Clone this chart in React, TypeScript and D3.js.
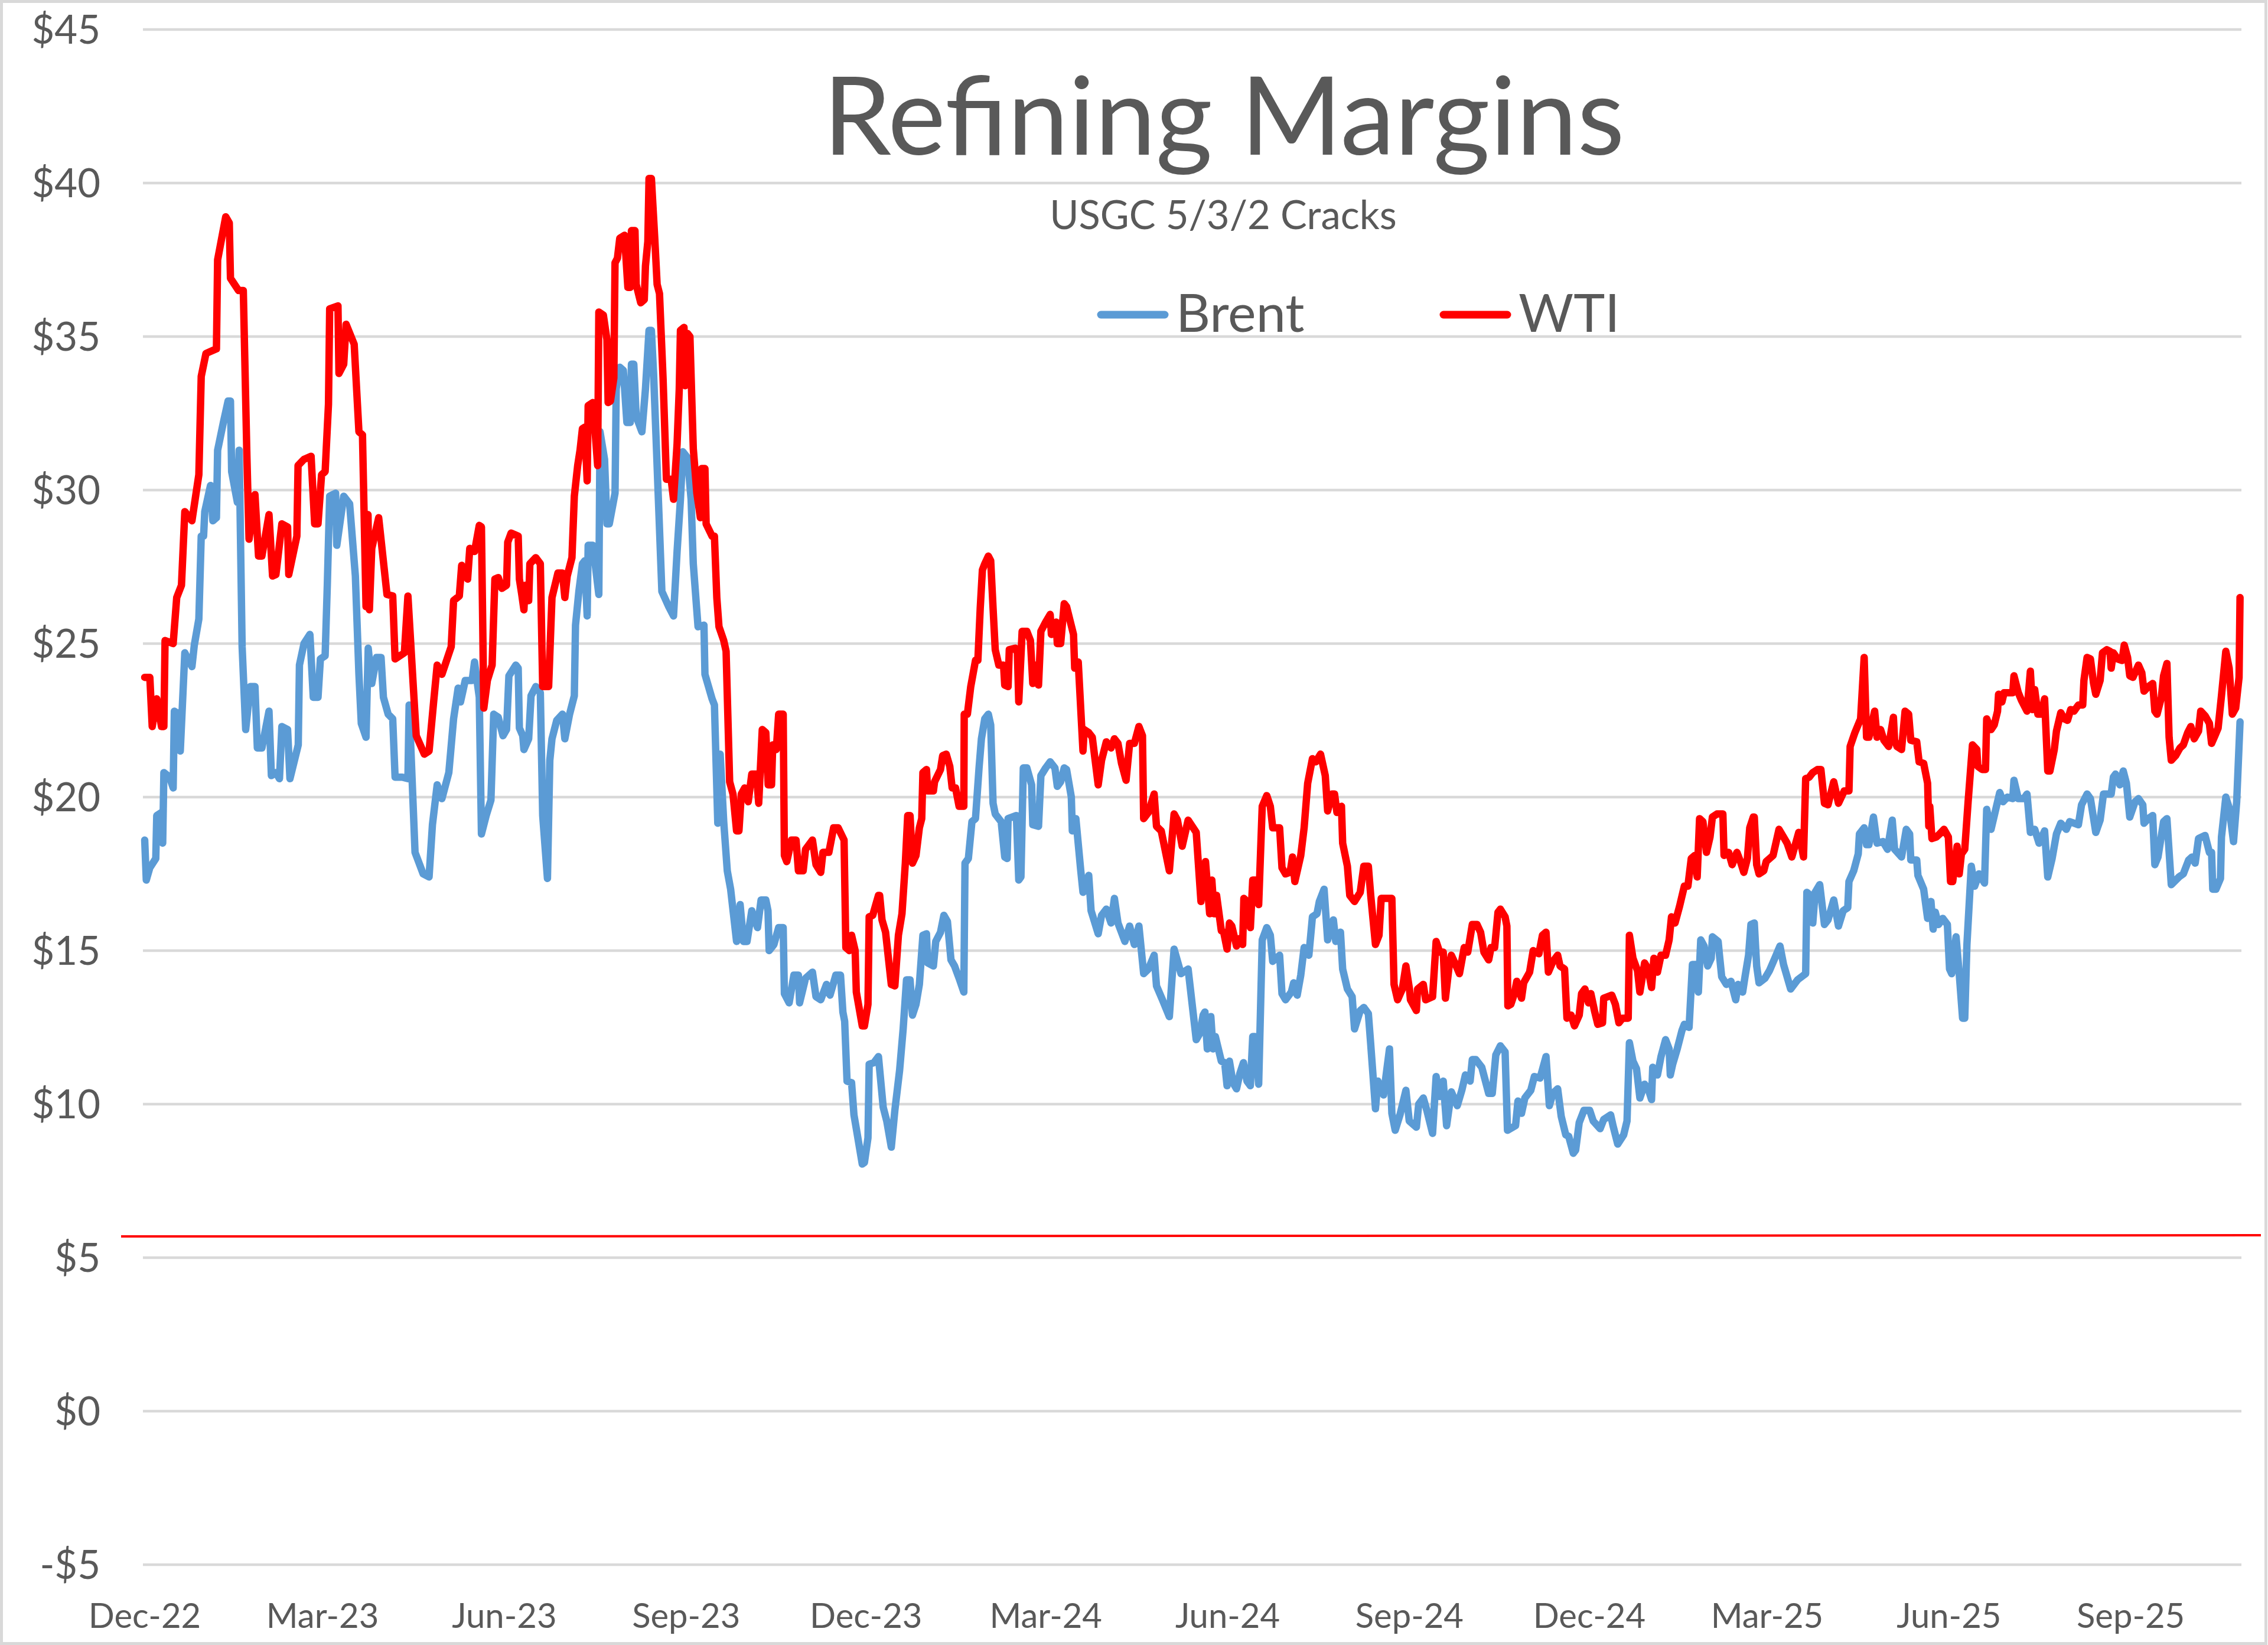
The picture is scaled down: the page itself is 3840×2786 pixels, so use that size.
import React from 'react';
import * as d3 from 'd3';

// ---------- data ----------
// x = days since 2022-12-01, y = USGC 5/3/2 crack ($/bbl)
const wtiSeries: [number, number][] = [
  [0,23.9],[2.6,23.9],[3.8,22.3],[6.1,23.2],[8.5,22.3],[9.7,22.3],[10.3,25.1],[14.4,25.0],[16.2,26.5],[18.6,26.9],[20.3,29.3],[23.9,29.0],[27.4,30.5],[28.6,33.7],[31.0,34.45],[36.3,34.6],[36.9,37.5],[41.0,38.9],[42.8,38.7],[43.4,36.9],[47.5,36.5],[49.9,36.5],[51.7,31.15],[52.8,28.4],[55.8,29.85],[57.6,27.85],[59.3,27.85],[62.9,29.2],[64.7,27.2],[66.4,27.25],[69.4,28.9],[72.3,28.8],[72.9,27.25],[77.0,28.5],[77.6,30.8],[80.6,31.0],[84.2,31.1],[86.0,28.9],[87.7,28.9],[89.5,30.5],[91.3,30.6],[93.0,32.8],[93.6,35.9],[97.8,36.0],[98.3,33.8],[100.7,34.1],[101.9,35.4],[106.0,34.75],[108.4,31.9],[110.2,31.8],[112.0,26.2],[113.0,29.2],[113.7,26.1],[114.9,28.1],[118.4,29.1],[122.6,26.6],[125.5,26.55],[126.7,24.5],[131.4,24.7],[133.2,26.55],[137.4,22.0],[141.5,21.4],[143.9,21.5],[146.2,23.1],[148.0,24.3],[150.4,24.0],[155.1,24.9],[156.3,26.4],[159.2,26.55],[160.4,27.55],[163.4,27.1],[164.5,28.1],[166.9,28.0],[169.3,28.85],[170.4,28.8],[171.6,22.9],[173.4,23.8],[175.8,24.3],
  [177.2,27.1],[178.9,27.15],[180.7,26.8],[183.1,26.9],[183.7,28.3],[185.4,28.6],[189.0,28.5],[189.6,27.1],[190.8,26.6],[191.9,26.1],[192.5,26.9],[194.3,26.4],[194.9,27.6],[197.9,27.8],[200.2,27.6],[201.4,23.6],[204.4,23.6],[205.5,25.5],[206.1,26.5],[209.1,27.3],[211.4,27.3],[212.6,26.5],[213.8,27.2],[216.2,27.8],[217.4,29.8],[219.1,30.8],[220.3,31.3],[221.5,32.0],[222.7,32.05],[223.9,30.3],[224.4,32.75],[226.8,32.85],[229.2,30.8],[229.8,35.8],[232.1,35.7],[233.9,34.9],[234.5,32.85],[235.7,32.9],[237.4,33.65],[238.0,37.4],[239.2,37.55],[240.4,38.2],[242.8,38.3],[244.5,36.6],[245.7,36.6],[246.3,38.45],[248.1,38.45],[248.7,36.7],[251.0,36.1],[252.8,36.2],[253.4,37.3],[254.6,38.1],[255.2,40.15],[256.4,40.15],[258.1,38.2],[259.3,36.7],[260.5,36.4],[262.3,33.65],[264.0,30.35],[266.4,30.35],[267.6,29.7],[269.4,31.5],[270.5,33.3],[271.1,35.2],[272.9,35.3],[273.5,33.4],[274.7,35.1],[275.9,35.0],[277.6,31.35],[279.4,29.9],[281.2,29.1],[281.8,30.7],[283.5,30.7],[284.1,28.9],[287.1,28.5],[288.3,28.5],[289.5,26.5],[290.6,25.55],[293.0,25.1],[294.2,24.75],[296.0,20.5],[297.7,20.1],[299.5,18.9],[300.7,18.9],[301.9,20.1],[303.6,20.3],[305.4,19.85],[307.2,20.75],[309.6,20.75],[310.7,19.8],[312.5,22.2],[314.3,22.1],[315.5,20.4],[317.2,20.4],[317.8,21.7],[319.6,21.55],[320.8,22.7],[323.1,22.7],[323.7,18.1],[324.9,17.9],[327.3,18.6],[329.6,18.6],[330.8,17.6],[333.2,17.6],[334.4,18.3],[337.9,18.6],[339.7,17.8],[342.1,17.55],[343.2,18.2],[346.2,18.2],[348.6,19.0],[350.9,19.0],[353.9,18.6],
  [354.8,15.1],[356.6,15.0],[357.7,15.5],[359.5,15.0],[360.1,13.65],[363.1,12.55],[364.2,12.55],[366.0,13.25],[366.6,16.1],[368.4,16.15],[371.3,16.8],[371.9,16.8],[373.1,16.0],[374.9,15.6],[377.8,13.9],[379.6,13.85],[381.4,15.5],[383.2,16.2],[384.9,17.85],[386.1,19.4],[387.3,19.4],[388.5,17.85],[390.3,18.1],[392.0,19.0],[393.2,19.3],[393.8,20.8],[395.6,20.9],[396.2,20.2],[399.1,20.2],[399.7,20.5],[402.7,20.9],[403.8,21.35],[405.6,21.4],[407.4,21.0],[408.6,20.3],[410.3,20.3],[412.1,19.7],[414.5,19.7],[414.7,22.7],[416.3,22.7],[418.0,23.6],[420.4,24.45],[421.6,24.45],[422.8,26.15],[423.9,27.4],[425.1,27.6],[426.9,27.85],[428.1,27.7],[429.3,26.15],[430.4,24.8],[432.2,24.3],[434.6,24.3],[435.2,23.65],[436.9,23.6],[437.5,24.8],[440.5,24.85],[441.6,24.7],[442.3,23.1],[444.0,25.4],[446.4,25.4],[448.2,25.1],[449.4,23.7],[450.5,24.3],[452.3,23.65],[453.5,25.4],[455.9,25.7],[458.2,25.95],[458.8,25.3],[461.2,25.7],[461.8,25.0],[463.5,25.0],[465.3,26.3],[466.5,26.2],[470.0,25.3],[470.6,24.2],[472.4,24.4],[474.8,21.5],[475.4,22.2],[477.7,22.1],[479.5,21.95],[482.5,20.4],[484.2,21.2],[486.6,21.8],[489.0,21.6],[490.7,21.9],[492.5,21.75],[494.3,21.1],[496.6,20.55],[498.4,21.75],[500.8,21.75],[503.1,22.3],[504.9,22.0],[505.5,19.3],[507.9,19.5],[510.8,20.1],[512.0,19.05],[514.4,18.9],[518.5,17.6],[520.9,19.45],[522.6,19.25],[525.0,18.4],[528.0,19.25],[532.1,18.85],[534.5,16.6],[536.8,17.9],
  [538.9,16.2],[540.0,17.3],[541.2,16.2],[542.4,16.8],[544.8,15.65],[546.0,15.6],[547.7,15.05],[548.9,15.9],[550.1,15.8],[552.5,15.15],[554.2,15.4],[555.6,15.2],[556.2,16.7],[557.8,16.6],[559.5,15.75],[560.7,17.3],[561.9,17.3],[563.7,16.5],[565.5,19.7],[567.8,20.05],[569.6,19.7],[570.8,19.0],[574.3,19.0],[575.5,17.7],[577.3,17.5],[579.6,17.55],[580.8,18.05],[582.0,17.25],[585.0,18.1],[586.7,19.0],[588.5,20.45],[590.9,21.25],[592.6,21.15],[595.0,21.4],[597.4,20.7],[598.6,19.55],[600.9,20.1],[602.1,20.1],[603.3,19.5],[605.6,19.7],[606.2,18.5],[608.6,17.75],[609.8,16.8],[612.2,16.6],[615.1,16.9],[616.9,17.75],[619.2,17.75],[620.4,16.8],[622.8,15.2],[624.6,15.5],[625.7,16.7],[631.1,16.7],[632.2,13.9],[634.0,13.4],[636.4,13.75],[638.2,14.5],[640.0,13.75],[640.5,13.4],[643.5,13.05],[644.1,13.75],[647.0,13.9],[648.2,13.4],[651.7,13.5],[653.5,15.3],[655.3,14.95],[657.1,14.95],[658.2,13.45],[660.0,14.45],[661.2,14.85],[663.0,14.6],[665.3,14.25],[667.7,15.1],[669.5,14.95],[671.8,15.85],[674.2,15.85],[676.0,15.6],[677.7,14.95],[680.1,14.7],[681.3,15.1],[683.1,15.1],[684.8,16.25],[686.0,16.35],[688.4,16.1],[689.3,15.8],[689.8,13.2],[691.3,13.25],[693.1,13.6],[694.3,14.0],[696.7,13.45],[697.8,13.95],[700.8,14.3],[702.6,15.0],[705.5,14.9],[707.3,15.5],[709.1,15.6],[710.3,14.3],[712.6,14.65],[715.0,14.85],[716.2,14.5],[718.5,14.4],[719.7,12.8],
  [721.8,12.9],[723.5,12.55],[725.9,12.9],[727.1,13.6],[728.8,13.75],[730.6,13.3],[731.8,13.6],[733.6,13.05],[735.3,12.6],[737.7,12.65],[738.3,13.45],[742.4,13.55],[744.2,13.25],[746.0,12.65],[747.8,12.8],[750.7,12.8],[751.3,15.5],[753.1,14.75],[755.4,14.35],[756.6,13.65],[759.0,14.6],[760.8,14.4],[762.5,13.8],[763.7,14.75],[765.5,14.3],[767.3,14.85],[769.6,14.85],[771.4,15.35],[772.6,16.1],[774.4,15.9],[776.7,16.45],[779.1,17.1],[780.9,17.1],[782.6,18.0],[784.4,18.1],[785.6,17.4],[786.8,19.3],[788.5,19.2],[790.3,18.2],[792.1,18.7],[793.3,19.35],[795.6,19.45],[798.6,19.45],[799.2,18.1],[801.5,18.2],[803.3,17.8],[805.7,18.2],[807.5,17.9],[809.2,17.55],[811.0,18.0],[812.2,19.0],[814.0,19.35],[814.5,19.35],[815.7,17.8],[816.9,17.5],[819.3,17.6],[820.5,17.9],[824.0,18.1],[827.0,18.95],[829.3,18.7],[831.1,18.5],[833.5,18.05],[837.0,18.85],[839.4,18.05],[840.5,20.6],[842.3,20.65],[844.1,20.8],[846.5,20.9],[848.2,20.9],[850.0,19.8],[851.8,19.75],[854.7,20.5],[857.1,19.8],[860.0,20.2],[862.4,20.2],[863.0,21.65],[865.4,22.1],[868.3,22.55],[870.1,24.55],[871.3,21.95],[872.5,21.95],[875.4,22.8],[876.6,21.95],[878.4,22.2],[880.1,21.85],[882.5,21.65],[884.9,22.6],[885.5,21.85],[886.7,21.65],[889.0,21.55],[890.8,22.8],[892.6,22.7],[893.7,21.85],[896.7,21.8],[897.9,21.15],[900.2,21.1],
  [902.2,20.45],[902.8,19.05],[903.3,19.7],[904.4,18.65],[906.6,18.7],[908.3,18.8],[910.5,18.95],[912.7,18.7],[913.8,17.25],[914.9,17.25],[917.1,18.4],[918.2,17.5],[919.3,18.15],[921.0,18.3],[922.7,19.85],[924.9,21.7],[927.1,21.55],[927.6,21.0],[929.8,20.9],[931.5,20.9],[932.1,22.55],[934.3,22.2],[935.9,22.35],[937.6,22.8],[938.1,23.35],[939.8,23.1],[940.9,23.4],[945.3,23.4],[945.9,23.95],[948.1,23.4],[949.7,23.15],[952.5,22.8],[954.2,24.1],[955.3,22.85],[956.4,23.5],[958.0,22.7],[959.7,22.7],[961.4,23.2],[963.0,20.85],[964.1,20.85],[966.3,21.55],[967.4,22.15],[969.6,22.75],[971.3,22.55],[973.0,22.5],[974.6,22.85],[976.3,22.8],[978.5,23.0],[980.7,23.0],[981.3,23.8],[982.9,24.55],[984.6,24.5],[986.2,23.7],[987.3,23.35],[989.5,23.8],[990.7,24.7],[992.9,24.8],[994.5,24.75],[995.1,24.2],[996.2,24.7],[998.4,24.5],[1000.6,24.45],[1001.7,24.95],[1003.4,24.55],[1004.5,23.95],[1006.1,23.9],[1008.9,24.3],[1010.6,24.05],[1011.7,23.45],[1013.9,23.6],[1016.1,23.7],[1017.2,22.8],[1018.3,22.7],[1020.5,23.25],[1021.6,23.95],[1023.3,24.35],[1024.4,21.95],[1025.5,21.2],[1027.7,21.35],[1029.9,21.6],[1031.6,21.7],[1033.8,22.1],[1035.4,22.3],[1037.1,21.9],[1039.3,22.15],[1040.4,22.8],[1042.6,22.65],[1044.8,22.4],[1045.9,21.75],[1047.6,22.0],[1049.2,22.25],[1050.9,23.3],[1053.1,24.75],[1054.8,24.2],[1056.4,22.7],[1058.1,22.9],[1059.8,23.9],[1060.3,26.5],
];

const brentSeries: [number, number][] = [
  [0,18.6],[0.8,17.3],[2.6,17.7],[5.6,18.0],[6.1,19.4],[8.5,19.5],[9.1,18.5],[9.7,20.8],[12.6,20.65],[14.4,20.3],[15.0,22.8],[17.4,22.7],[18.0,21.5],[20.3,24.7],[23.9,24.25],[25.1,24.95],[27.4,25.8],[28.6,28.5],[29.8,28.5],[30.4,29.3],[33.3,30.15],[34.5,29.0],[36.3,29.1],[36.9,31.3],[39.8,32.2],[42.2,32.9],[43.4,32.9],[44.0,30.6],[46.9,29.6],[47.8,31.3],[49.3,24.9],[51.1,22.2],[53.4,23.6],[55.8,23.6],[57.0,21.6],[59.3,21.6],[62.9,22.8],[64.1,20.7],[66.4,20.8],[68.2,20.6],[69.4,22.3],[72.3,22.2],[73.5,20.6],[77.7,21.7],[78.3,24.3],[80.6,25.0],[83.6,25.3],[85.3,23.25],[87.7,23.25],[88.9,24.5],[91.3,24.6],[92.4,26.9],[93.6,29.8],[96.6,29.9],[97.2,28.2],[100.7,29.8],[103.7,29.55],[106.6,27.2],[108.4,24.0],[109.6,22.4],[112.0,21.95],[113.1,24.85],[114.9,23.7],[117.3,24.55],[119.6,24.55],[120.8,23.25],[123.2,22.7],[125.5,22.55],[126.7,20.65],[130.3,20.65],[133.2,20.6],[133.8,23.0],[136.8,18.2],[140.9,17.5],[143.9,17.4],[145.6,19.1],[148.0,20.4],[150.4,19.95],[153.9,20.8],[156.3,22.55],[158.6,23.55],[159.8,23.1],[162.2,23.8],[165.7,23.8],[166.9,24.4],[169.3,23.25],[170.4,18.8],[172.8,19.4],[175.2,19.9],
  [176.6,22.7],[178.9,22.6],[181.3,22.0],[183.1,22.2],[184.3,23.95],[187.8,24.3],[189.0,24.2],[189.6,22.25],[191.3,22.0],[191.9,21.55],[194.3,21.9],[195.5,23.3],[197.9,23.6],[200.2,23.4],[201.4,19.4],[203.8,17.35],[205.0,21.2],[206.1,21.9],[208.5,22.5],[211.4,22.7],[212.6,21.9],[215.0,22.7],[217.4,23.3],[218.0,25.6],[219.7,26.7],[221.5,27.6],[222.7,27.7],[223.9,25.9],[224.4,28.2],[226.8,28.2],[229.8,26.6],[230.4,31.9],[232.7,31.0],[233.9,28.9],[235.1,28.9],[238.0,29.9],[238.6,33.3],[240.4,34.0],[242.2,33.9],[244.0,32.2],[245.7,32.2],[246.3,34.1],[247.5,34.1],[248.7,32.4],[251.6,31.9],[253.4,33.3],[255.2,35.2],[256.4,35.2],[257.5,33.8],[258.7,31.8],[261.7,26.7],[265.2,26.2],[267.6,25.9],[269.4,28.0],[271.1,29.7],[272.3,31.25],[274.7,31.05],[276.5,29.7],[277.6,27.6],[280.0,25.55],[283.0,25.6],[283.5,24.0],[287.1,23.2],[288.3,23.0],[290.0,19.15],[291.2,21.4],[293.0,19.2],[294.8,17.6],[296.5,17.0],[299.5,15.3],[301.3,16.5],[303.0,15.3],[304.8,15.3],[307.2,16.3],[310.1,15.75],[311.9,16.65],[314.3,16.65],[315.4,16.3],[316.0,15.0],[318.4,15.2],[320.8,15.75],[323.1,15.75],[323.7,13.6],[326.1,13.3],[328.5,14.2],[330.8,14.2],[331.4,13.3],[334.4,14.1],[337.9,14.3],[339.7,13.5],[342.1,13.4],[345.0,13.9],[346.8,13.55],[349.7,14.2],[352.1,14.2],[353.3,13.0],
  [354.2,12.7],[355.4,10.75],[357.7,10.7],[358.9,9.65],[360.1,9.2],[363.1,8.05],[364.2,8.1],[366.0,8.9],[366.6,11.3],[369.0,11.35],[371.3,11.55],[373.7,9.9],[375.5,9.45],[377.8,8.6],[379.6,9.8],[382.0,11.1],[383.8,12.45],[385.5,14.05],[387.3,14.05],[388.5,12.9],[390.3,13.25],[392.0,13.9],[393.8,15.5],[395.6,15.55],[396.2,14.6],[399.1,14.5],[400.3,15.3],[402.7,15.6],[404.4,16.15],[406.2,15.95],[408.0,14.7],[409.8,14.5],[412.1,14.1],[414.5,13.65],[415.1,17.85],[416.8,18.0],[418.6,19.2],[420.4,19.3],[422.2,20.95],[423.4,21.9],[425.1,22.55],[426.9,22.7],[428.1,22.35],[429.3,19.8],[430.4,19.45],[433.4,19.2],[435.2,18.05],[436.4,18.0],[436.9,19.3],[441.1,19.4],[442.3,17.3],[443.4,17.4],[444.6,20.95],[446.4,20.95],[448.8,20.4],[449.4,19.1],[452.3,19.05],[453.5,20.7],[455.9,20.95],[458.2,21.15],[460.6,20.95],[461.8,20.35],[463.5,20.5],[465.3,20.95],[466.5,20.9],[468.9,20.0],[469.4,18.9],[471.2,19.3],[473.6,17.65],[474.8,16.9],[477.7,17.45],[478.9,16.3],[482.5,15.55],[484.2,16.15],[486.6,16.35],[489.0,15.9],[490.7,16.7],[492.5,15.9],[496.0,15.3],[498.4,15.8],[500.8,15.2],[503.1,15.8],[505.5,14.25],[507.9,14.4],[510.8,14.85],[512.0,13.85],[515.0,13.4],[518.5,12.85],[520.9,15.05],[524.4,14.25],[528.0,14.4],[532.1,12.1],[533.9,12.3],[535.6,12.9],
  [536.5,13.0],[537.7,11.8],[539.5,12.85],[540.6,11.8],[541.8,12.2],[544.8,11.4],[546.5,11.35],[547.7,10.6],[548.9,11.4],[550.7,10.7],[552.5,10.5],[554.2,11.0],[556.0,11.35],[557.8,10.75],[559.5,10.6],[560.7,12.2],[561.9,12.2],[563.7,10.65],[565.5,15.35],[567.8,15.75],[569.6,15.5],[570.8,14.65],[574.3,14.85],[575.5,13.6],[577.3,13.4],[580.2,13.65],[581.4,13.95],[583.2,13.55],[585.0,14.2],[586.7,15.1],[589.1,14.85],[590.9,16.1],[593.2,16.2],[594.4,16.6],[596.8,17.0],[598.6,15.35],[601.5,16.0],[602.7,15.3],[605.1,15.6],[606.2,14.4],[608.6,13.75],[611.0,13.5],[612.2,12.45],[615.1,13.05],[616.9,13.15],[619.2,12.95],[620.4,11.95],[622.8,9.85],[624.0,10.75],[626.9,10.3],[629.9,11.8],[631.1,9.7],[632.8,9.15],[635.2,9.65],[638.2,10.45],[639.9,9.45],[643.5,9.25],[644.7,10.0],[647.0,10.2],[648.8,9.8],[651.7,9.05],[653.5,10.9],[655.3,10.25],[657.1,10.75],[658.8,9.3],[661.2,10.4],[664.2,9.95],[666.5,10.45],[668.3,10.95],[670.7,10.75],[671.8,11.45],[673.6,11.45],[676.6,11.2],[680.1,10.35],[681.9,10.35],[683.7,11.6],[686.0,11.9],[688.4,11.7],[689.6,9.15],[693.7,9.3],[694.9,10.1],[696.7,9.7],[698.4,10.2],[701.4,10.45],[703.2,10.9],[706.1,10.85],[709.1,11.55],[710.8,9.95],[712.6,10.35],[715.0,10.5],[716.8,9.6],[719.1,9.0],
  [720.6,8.95],[722.9,8.4],[724.1,8.5],[725.9,9.4],[728.3,9.8],[731.2,9.8],[733.0,9.45],[736.5,9.2],[738.3,9.5],[741.8,9.65],[743.0,9.3],[745.4,8.7],[748.4,9.0],[750.1,9.45],[751.3,12.0],[753.1,11.4],[754.9,11.15],[756.6,10.2],[759.0,10.65],[760.8,10.5],[762.5,10.15],[763.1,11.2],[765.5,10.95],[767.3,11.55],[769.6,12.1],[771.4,11.8],[772.0,10.95],[773.2,11.3],[775.5,11.8],[777.9,12.4],[779.1,12.6],[781.5,12.5],[783.2,14.55],[785.0,14.55],[786.2,13.65],[787.4,15.35],[789.1,15.15],[790.9,14.5],[792.7,14.75],[793.3,15.45],[796.2,15.3],[796.8,14.9],[798.0,14.15],[800.4,13.9],[802.7,14.0],[805.1,13.4],[806.3,13.9],[808.6,13.65],[809.8,14.15],[811.6,14.85],[812.8,15.85],[814.5,15.9],[815.7,14.5],[816.9,13.95],[819.9,14.1],[822.2,14.35],[825.2,14.8],[827.5,15.15],[829.3,14.55],[832.9,13.75],[836.4,14.05],[840.5,14.25],[841.1,16.9],[842.9,16.8],[844.1,15.9],[845.3,16.9],[847.6,17.15],[850.0,15.85],[851.8,16.0],[854.7,16.65],[857.1,15.8],[859.5,16.3],[861.8,16.4],[862.4,17.25],[864.8,17.6],[867.1,18.15],[867.7,18.8],[870.1,19.0],[871.3,18.45],[872.5,18.45],[874.8,19.35],[876.6,18.5],[879.6,18.55],[881.9,18.3],[884.3,19.25],[885.5,18.3],[889.0,18.05],[891.4,18.95],[893.1,18.8],[893.7,17.95],[896.7,17.95],[897.3,17.45],[900.2,17.0],
  [902.2,16.05],[903.9,16.6],[905.0,15.7],[906.1,16.25],[907.7,15.85],[909.9,16.05],[912.2,15.85],[913.3,14.4],[914.4,14.25],[916.6,15.45],[918.2,14.25],[919.9,12.8],[921.0,12.8],[922.1,15.2],[924.3,17.75],[926.0,17.1],[928.2,17.5],[931.0,17.2],[932.1,19.6],[934.3,18.95],[936.5,19.55],[938.7,20.15],[940.4,19.85],[942.6,20.0],[945.3,19.95],[945.9,20.55],[948.1,19.95],[950.9,19.95],[952.5,20.1],[954.2,18.85],[956.4,18.95],[958.6,18.5],[961.4,18.9],[963.0,17.4],[965.2,18.0],[967.4,18.8],[969.6,19.15],[972.4,18.95],[974.1,19.2],[976.3,19.15],[978.5,19.1],[980.1,19.75],[982.9,20.1],[984.6,19.95],[987.3,18.85],[989.5,19.25],[991.2,20.1],[995.1,20.1],[996.2,20.65],[997.3,20.75],[999.5,20.4],[1001.2,20.85],[1002.8,20.45],[1004.5,19.35],[1007.2,19.85],[1008.9,19.95],[1011.1,19.75],[1011.7,19.15],[1013.9,19.3],[1016.1,19.4],[1017.2,17.8],[1018.8,18.05],[1021.6,19.2],[1023.3,19.3],[1025.5,17.15],[1029.4,17.4],[1031.6,17.5],[1034.3,17.95],[1036.0,18.05],[1037.6,17.85],[1039.3,18.65],[1042.6,18.75],[1044.8,18.2],[1045.9,18.2],[1046.5,17.0],[1048.1,17.0],[1050.4,17.35],[1050.9,18.7],[1053.1,20.0],[1054.8,19.65],[1057.0,18.55],[1058.6,19.85],[1060.3,22.45],
];

const tickDates = ['2022-12-01','2023-03-01','2023-06-01','2023-09-01','2023-12-01','2024-03-01','2024-06-01','2024-09-01','2024-12-01','2025-03-01','2025-06-01','2025-09-01'];
const tickLabels = ['Dec-22','Mar-23','Jun-23','Sep-23','Dec-23','Mar-24','Jun-24','Sep-24','Dec-24','Mar-25','Jun-25','Sep-25'];
const yTicks = [-5, 0, 5, 10, 15, 20, 25, 30, 35, 40, 45];
const refLine = [5.69, 5.73]; // thin red reference line, left/right values
const seriesNames = ['Brent', 'WTI'];
const seriesColors = ['#5B9BD5', '#FF0000'];

const START = Date.UTC(2022, 11, 1);
const DAY = 86400000;
const LAST_DAY = 1061;

export default function App() {
  const W = 3840, H = 2786;
  const left = 245, right = 3795, top = 50, bottom = 2650;
  const font = "Lato, 'Open Sans', sans-serif";
  const textColor = '#595959';

  const x = d3.scaleUtc()
    .domain([new Date(START), new Date(START + LAST_DAY * DAY)])
    .range([left, right]);
  const y = d3.scaleLinear().domain([-5, 45]).range([bottom, top]);
  const line = d3.line<[number, number]>()
    .x(d => x(new Date(START + d[0] * DAY)))
    .y(d => y(d[1]));
  const parse = d3.utcParse('%Y-%m-%d');
  const fmt = (v: number) => (v < 0 ? `-$${-v}` : `$${v}`);

  return (
    <div style={{ position: 'absolute', left: 0, top: 0, width: W, height: H, background: '#fff' }}>
      <svg width={W} height={H} style={{ display: 'block' }}>
        <rect x={0} y={0} width={W} height={H} fill="#fff" />
        <rect x={2.5} y={2.5} width={W - 6} height={H - 5} fill="none" stroke="#d9d9d9" strokeWidth={5} />
        {/* gridlines */}
        {yTicks.map(v => (
          <line key={v} x1={left - 3} x2={right} y1={y(v)} y2={y(v)} stroke="#d9d9d9" strokeWidth={4.5} />
        ))}
        {/* y labels */}
        {yTicks.map(v => (
          <text key={'l' + v} x={170} y={y(v) + 24} textAnchor="end" fontFamily={font} fontSize={67} fill={textColor}>
            {fmt(v)}
          </text>
        ))}
        {/* x labels */}
        {tickDates.map((d, i) => (
          <text key={d} x={x(parse(d) as Date)} y={2757} textAnchor="middle" fontFamily={font} fontSize={58} fill={textColor}>
            {tickLabels[i]}
          </text>
        ))}
        {/* reference line */}
        <line x1={left - 40} x2={3828} y1={y(refLine[0])} y2={y(refLine[1])} stroke="#FF0000" strokeWidth={4} />
        {/* series */}
        <path d={line(brentSeries) || ''} fill="none" stroke={seriesColors[0]} strokeWidth={12.5} strokeLinejoin="round" strokeLinecap="round" />
        <path d={line(wtiSeries) || ''} fill="none" stroke={seriesColors[1]} strokeWidth={12.5} strokeLinejoin="round" strokeLinecap="round" />
        {/* title */}
        <text x={2072} y={262} textAnchor="middle" fontFamily={font} fontSize={185} fill={textColor}>Refining Margins</text>
        <text x={2071} y={388} textAnchor="middle" fontFamily={font} fontSize={67} fill={textColor}>USGC 5/3/2 Cracks</text>
        {/* legend */}
        {seriesNames.map((name, i) => {
          const lx = i === 0 ? 1864 : 2444;
          return (
            <g key={name}>
              <line x1={lx} x2={lx + 108} y1={533} y2={533} stroke={seriesColors[i]} strokeWidth={13} strokeLinecap="round" />
              <text x={lx + 127} y={562} fontFamily={font} fontSize={90} fill={textColor}>{name}</text>
            </g>
          );
        })}
      </svg>
    </div>
  );
}
